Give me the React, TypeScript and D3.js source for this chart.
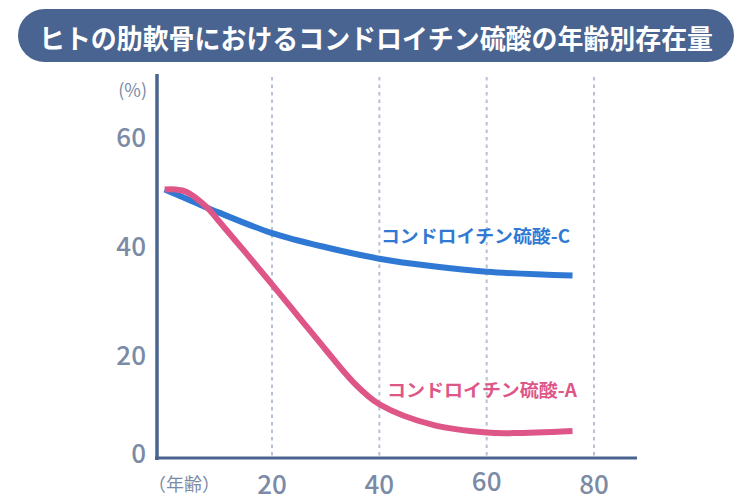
import React from "react";
import * as d3 from "d3";

const title = "ヒトの肋軟骨におけるコンドロイチン硫酸の年齢別存在量";
const xTicks = [20, 40, 60, 80];
const yTicks = [0, 20, 40, 60];

const agesC = [0, 5, 10, 20, 30, 40, 50, 60, 76];
const valuesC = [50, 47.9, 45.8, 42.0, 39.4, 37.3, 35.9, 34.9, 34.2];

const agesA = [0, 2, 4, 8, 10, 15, 20, 25, 30, 35, 40, 50, 60, 65, 76];
const valuesA = [50, 50, 49.6, 46.6, 44.3, 38.5, 32.6, 26.6, 20.6, 14.8, 10.6, 6.8, 5.4, 5.3, 5.7];

const seriesNames = ["コンドロイチン硫酸-C", "コンドロイチン硫酸-A"];

const FONT = "'Noto Sans CJK JP', 'Noto Sans', sans-serif";
const AXIS = "#4a6490";
const TICK = "#7b8ba5";
const BLUE = "#2f79d4";
const PINK = "#de5687";

export default function App() {
  const x = d3.scaleLinear().domain([0, 80]).range([164.7, 594]);
  const y = d3.scaleLinear().domain([0, 60]).range([462, 135]);

  const line = d3
    .line<[number, number]>()
    .x((d) => x(d[0]))
    .y((d) => y(d[1]))
    .curve(d3.curveCatmullRom.alpha(0.5));

  const dC = line(agesC.map((a, i) => [a, valuesC[i]]) as [number, number][]) || "";
  const dA = line(agesA.map((a, i) => [a, valuesA[i]]) as [number, number][]) || "";

  return (
    <svg
      width={750}
      height={504}
      style={{ position: "absolute", left: 0, top: 0, background: "#fff" }}
      fontFamily={FONT}
    >
      <rect x={18} y={9} width={716} height={53} rx={26.5} ry={26.5} fill="#4a6491" />
      <text
        x={376}
        y={37}
        textAnchor="middle"
        dominantBaseline="central"
        fill="#fff"
        fontWeight="bold"
        fontSize={27}
        textLength={674}
        lengthAdjust="spacingAndGlyphs"
      >
        {title}
      </text>

      {xTicks.map((t) => (
        <line
          key={"g" + t}
          x1={x(t)}
          x2={x(t)}
          y1={77}
          y2={456}
          stroke="#b6c1d3"
          strokeWidth={2}
          strokeDasharray="3.5 4"
        />
      ))}

      <line x1={157} x2={157} y1={74} y2={460} stroke={AXIS} strokeWidth={3.5} />
      <line x1={155} x2={637} y1={458} y2={458} stroke={AXIS} strokeWidth={3} />

      {yTicks.map((t) => (
        <text
          key={"y" + t}
          x={146}
          y={t === 0 ? 451 : y(t)}
          textAnchor="end"
          dominantBaseline="central"
          fill={TICK}
          fontSize={26}
          fontWeight={500}
        >
          {t}
        </text>
      ))}
      <text x={147} y={89} textAnchor="end" dominantBaseline="central" fill={TICK} fontSize={18}>
        (%)
      </text>

      {xTicks.map((t) => (
        <text
          key={"x" + t}
          x={x(t)}
          y={t === 60 ? 479 : 482}
          textAnchor="middle"
          dominantBaseline="central"
          fill={TICK}
          fontSize={26}
          fontWeight={500}
        >
          {t}
        </text>
      ))}
      <text x={148} y={483} dominantBaseline="central" fill={TICK} fontSize={18}>
        （年齢）
      </text>

      <path d={dC} fill="none" stroke={BLUE} strokeWidth={6} />
      <path d={dA} fill="none" stroke={PINK} strokeWidth={6} />

      <text
        x={381}
        y={235}
        dominantBaseline="central"
        fill={BLUE}
        fontWeight="bold"
        fontSize={18}
        textLength={189}
        lengthAdjust="spacingAndGlyphs"
      >
        {seriesNames[0]}
      </text>
      <text
        x={387}
        y={389}
        dominantBaseline="central"
        fill={PINK}
        fontWeight="bold"
        fontSize={18}
        textLength={190}
        lengthAdjust="spacingAndGlyphs"
      >
        {seriesNames[1]}
      </text>
    </svg>
  );
}
